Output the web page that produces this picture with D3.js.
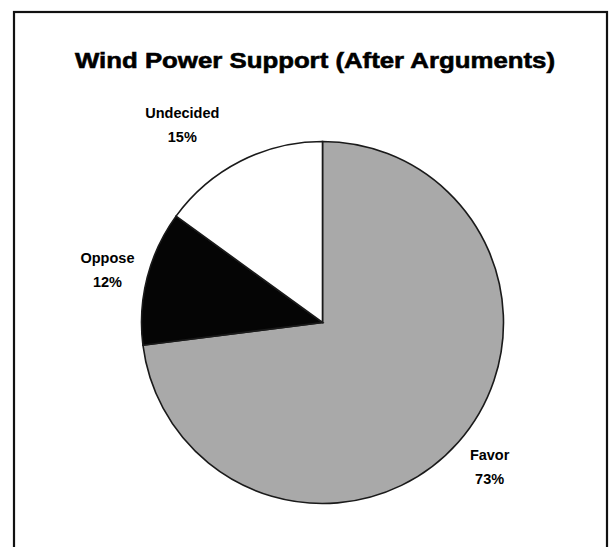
<!DOCTYPE html>
<html>
<head>
<meta charset="utf-8">
<script src="https://cdn.jsdelivr.net/npm/d3@7"></script>
<style>
  html, body { margin: 0; padding: 0; background: #fff; }
  svg { display: block; }
</style>
</head>
<body>
<svg id="chart" width="613" height="547"></svg>
<script>
const categories = ["Favor", "Oppose", "Undecided"];
const values = [73, 12, 15];
const colors = ["#a9a9a9", "#050505", "#ffffff"];
const titleText = "Wind Power Support (After Arguments)";

const svg = d3.select("#chart");

// frame
svg.append("rect")
  .attr("x", 14).attr("y", 12)
  .attr("width", 593).attr("height", 560)
  .attr("fill", "#fff")
  .attr("stroke", "#111").attr("stroke-width", 2.2);

// title
svg.append("text")
  .attr("x", 315).attr("y", 68)
  .attr("text-anchor", "middle")
  .attr("font-family", "Liberation Sans, Arial, sans-serif")
  .attr("font-weight", "bold")
  .attr("font-size", 22.5)
  .attr("textLength", 480)
  .attr("lengthAdjust", "spacingAndGlyphs")
  .attr("fill", "#000")
  .attr("stroke", "#000")
  .attr("stroke-width", 0.6)
  .text(titleText);

const cx = 322.5, cy = 322.5, r = 181;
const data = categories.map((c, i) => ({ name: c, value: values[i], color: colors[i] }));
const pie = d3.pie().value(d => d.value).sort(null);
const arcs = pie(data);
const arc = d3.arc().innerRadius(0).outerRadius(r);

const g = svg.append("g").attr("transform", `translate(${cx},${cy})`);
g.selectAll("path.slice")
  .data(arcs)
  .join("path")
  .attr("class", "slice")
  .attr("d", arc)
  .attr("fill", d => d.data.color)
  .attr("stroke", "#1a1a1a")
  .attr("stroke-width", 1.6)
  .attr("stroke-linejoin", "miter");

// labels outside the pie
const labelRadius = { Favor: 219, Oppose: 222, Undecided: 245 };
const labelAngleShift = { Favor: -0.02, Oppose: 0, Undecided: -0.138 };
const total = d3.sum(values);
arcs.forEach(d => {
  const a = (d.startAngle + d.endAngle) / 2 + labelAngleShift[d.data.name];
  const lr = labelRadius[d.data.name];
  const x = lr * Math.sin(a), y = -lr * Math.cos(a);
  const t = g.append("text")
    .attr("text-anchor", "middle")
    .attr("font-family", "Liberation Sans, Arial, sans-serif")
    .attr("font-weight", "bold")
    .attr("font-size", 14.5)
    .attr("fill", "#000");
  t.append("tspan").attr("x", x).attr("y", y - 4).text(d.data.name);
  t.append("tspan").attr("x", x).attr("y", y + 20)
    .text(Math.round(d.data.value / total * 100) + "%");
});
</script>
</body>
</html>
